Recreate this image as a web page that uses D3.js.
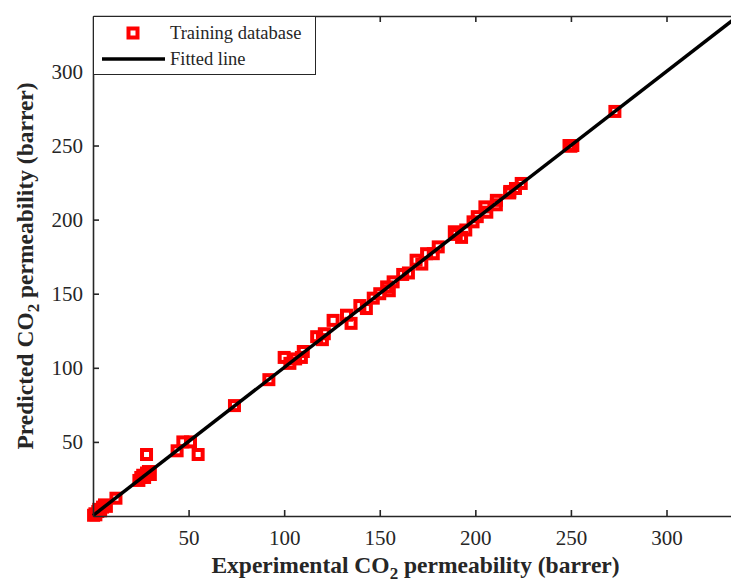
<!DOCTYPE html>
<html>
<head>
<meta charset="utf-8">
<script src="https://d3js.org/d3.v7.min.js"></script>
<style>
  body { margin: 0; background: #fff; }
  text { font-family: "Liberation Serif", "Times New Roman", serif; fill: #262626; }
</style>
</head>
<body>
<div id="chart"></div>
<script>
//Chart values
var experimental = [0.3, 1, 1.5, 2.5, 3, 4, 5, 6, 7, 12,
    24, 25, 26, 27, 28, 29, 30, 28,
    44, 47, 51, 55, 74, 92,
    100, 103, 106, 110, 109, 117, 121, 120,
    125.6, 132.6, 135, 139.6, 143, 146.6, 150, 153.6, 155, 157, 162, 165,
    169, 172, 174.5, 180.6, 178, 189, 192.8, 190, 195,
    198.8, 201, 205, 206, 211, 211, 218, 218, 221, 224,
    249, 250, 251, 273, 337.4];
var predicted = [0.5, 1.5, 0.8, 3, 4.5, 3.5, 6, 7.5, 6.5, 12,
    24, 26, 27.5, 26, 29, 30, 28, 41.5,
    44, 50, 50, 41.5, 74.5, 92,
    107, 103, 106, 111, 107, 121, 123, 119,
    132, 135.5, 130, 142, 140, 147, 150, 154.6, 152, 158, 163, 164,
    172.6, 170, 177, 181.6, 177, 191.8, 188, 190, 193,
    198.5, 202, 208.6, 205, 210, 213, 218, 219, 221, 224.4,
    250, 249.5, 250, 273, 337.4];

//Fitted line end points (x, y)
var fitX = [0, 337.4];
var fitY = [0.3, 337.4];

var xTicks = [50, 100, 150, 200, 250, 300];
var yTicks = [50, 100, 150, 200, 250, 300];

var width = 731,
    height = 580;

var margin = {left: 93, right: 738, top: 16, bottom: 516};

var x = d3.scaleLinear()
    .domain([0, 337.4])
    .range([margin.left, margin.right]);

var y = d3.scaleLinear()
    .domain([0, 337.4])
    .range([margin.bottom, margin.top]);

var svg = d3.select("#chart").append("svg")
    .attr("width", width)
    .attr("height", height);

var axisColor = "#262626";

//markers
var pts = d3.range(experimental.length).map(function(i) {
    return {x: experimental[i], y: predicted[i]};
});

svg.append("g")
    .selectAll("rect")
    .data(pts)
    .enter()
    .append("rect")
    .attr("x", function(d) { return x(d.x) - 4.5; })
    .attr("y", function(d) { return y(d.y) - 4.5; })
    .attr("width", 9)
    .attr("height", 9)
    .attr("fill", "none")
    .attr("stroke", "#ff0000")
    .attr("stroke-width", 4);

//fitted line
svg.append("line")
    .attr("x1", x(fitX[0]))
    .attr("y1", y(fitY[0]))
    .attr("x2", x(fitX[1]))
    .attr("y2", y(fitY[1]))
    .attr("stroke", "#000")
    .attr("stroke-width", 3.5);

//axes (ticks point inward, box with mirrored ticks)
var xAxis = svg.append("g")
    .attr("transform", "translate(0," + margin.bottom + ")")
    .call(d3.axisBottom(x).tickValues(xTicks).tickSizeInner(-6).tickSizeOuter(0).tickPadding(14));

var xTop = svg.append("g")
    .attr("transform", "translate(0," + margin.top + ")")
    .call(d3.axisTop(x).tickValues(xTicks).tickSizeInner(-6).tickSizeOuter(0).tickFormat(""));

var yAxis = svg.append("g")
    .attr("transform", "translate(" + margin.left + ",0)")
    .call(d3.axisLeft(y).tickValues(yTicks).tickSizeInner(-6).tickSizeOuter(0).tickPadding(10));

[xAxis, xTop, yAxis].forEach(function(g) {
    g.select(".domain").attr("stroke", axisColor).attr("stroke-width", 1.6);
    g.selectAll(".tick line").attr("stroke", axisColor).attr("stroke-width", 1.6);
    g.selectAll(".tick text")
        .style("font-family", "'Liberation Serif', 'Times New Roman', serif")
        .style("font-size", "21px")
        .attr("fill", axisColor);
});

//axis titles
var xLabel = svg.append("text")
    .attr("x", (margin.left + margin.right) / 2)
    .attr("y", 573)
    .attr("text-anchor", "middle")
    .style("font-size", "23.5px")
    .style("font-weight", "bold");
xLabel.append("tspan").text("Experimental CO");
xLabel.append("tspan").attr("dy", 6).style("font-size", "17px").text("2");
xLabel.append("tspan").attr("dy", -6).text(" permeability (barrer)");

var yLabel = svg.append("text")
    .attr("transform", "translate(33," + (margin.top + margin.bottom) / 2 + ") rotate(-90)")
    .attr("text-anchor", "middle")
    .style("font-size", "23.5px")
    .style("font-weight", "bold");
yLabel.append("tspan").text("Predicted CO");
yLabel.append("tspan").attr("dy", 6).style("font-size", "17px").text("2");
yLabel.append("tspan").attr("dy", -6).text(" permeability (barrer)");

//legend
var legend = svg.append("g");

legend.append("rect")
    .attr("x", 93.5)
    .attr("y", 16.5)
    .attr("width", 222)
    .attr("height", 58)
    .attr("fill", "#fff")
    .attr("stroke", axisColor)
    .attr("stroke-width", 1);

legend.append("rect")
    .attr("x", 133 - 4.5)
    .attr("y", 33 - 4.5)
    .attr("width", 9)
    .attr("height", 9)
    .attr("fill", "none")
    .attr("stroke", "#ff0000")
    .attr("stroke-width", 4);

legend.append("line")
    .attr("x1", 102)
    .attr("x2", 165)
    .attr("y1", 59)
    .attr("y2", 59)
    .attr("stroke", "#000")
    .attr("stroke-width", 3.5);

legend.append("text")
    .attr("x", 170)
    .attr("y", 39)
    .style("font-size", "18.5px")
    .attr("fill", "#000")
    .text("Training database");

legend.append("text")
    .attr("x", 170)
    .attr("y", 65)
    .style("font-size", "18.5px")
    .attr("fill", "#000")
    .text("Fitted line");
</script>
</body>
</html>
